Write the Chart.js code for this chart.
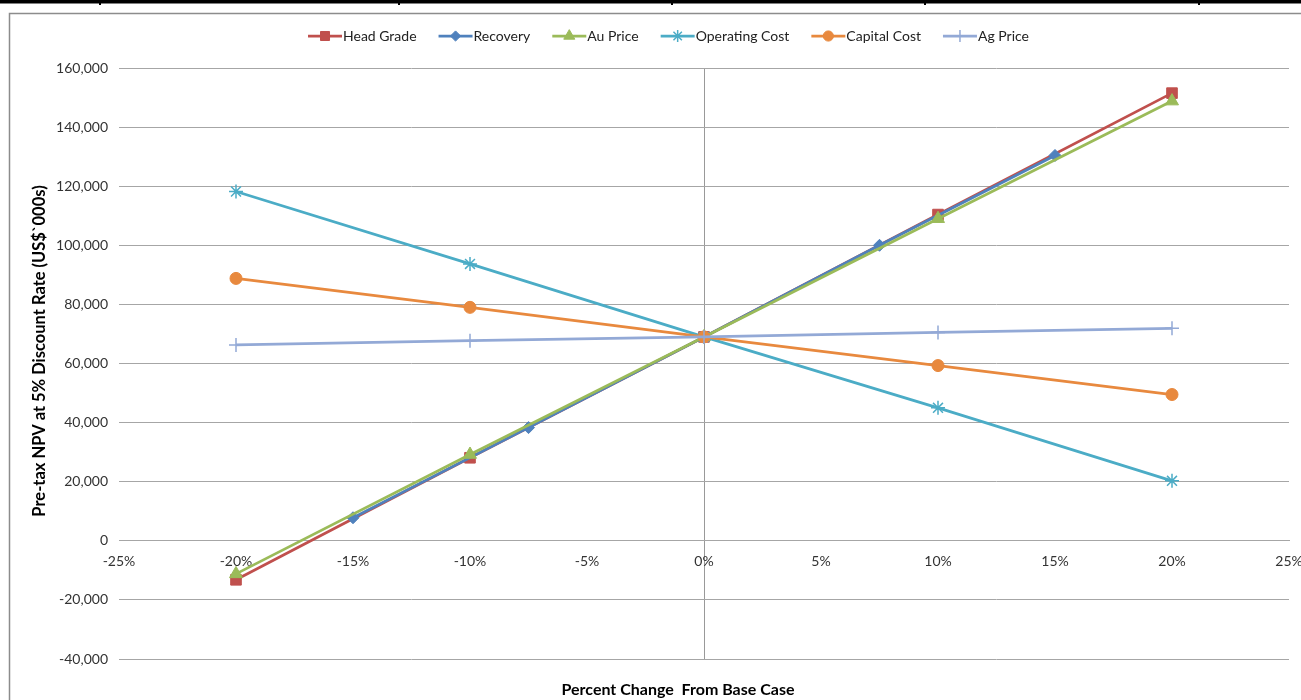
<!DOCTYPE html>
<html>
<head>
<meta charset="utf-8">
<script src="https://cdn.jsdelivr.net/npm/chart.js@4/dist/chart.umd.min.js"></script>
<style>
  html, body { margin: 0; padding: 0; background: #fff; overflow: hidden; }
  #wrap { width: 1301px; height: 700px; position: relative; }
</style>
</head>
<body>
<div id="wrap"><canvas id="c" width="1301" height="700"></canvas></div>
<script>
// Percent change from base case (x values)
const pctSteps = [-20, -10, 0, 10, 20];
const pctStepsRecovery = [-15, -7.5, 0, 7.5, 15];

// Pre-tax NPV at 5% discount rate, US$'000s
const npvHeadGrade     = [-13200, 28100, 69000, 110400, 151500];
const npvRecovery      = [7800, 38300, 69000, 100000, 130400];
const npvAuPrice       = [-11200, 29200, 69000, 109000, 148800];
const npvOperatingCost = [118200, 93700, 69000, 45000, 20300];
const npvCapitalCost   = [88800, 79000, 69000, 59300, 49500];
const npvAgPrice       = [66300, 67700, 69000, 70500, 71900];

// Axis ranges and tick steps
const xRange = [-25, 25];
const xStep = 5;
const yRange = [-40000, 160000];
const yStep = 20000;

const xTitle = 'Percent Change  From Base Case';
const yTitle = 'Pre-tax NPV at 5% Discount Rate (US$`000s)';

const FONT = 'Lato, "Open Sans", sans-serif';

function pts(xs, ys) { return xs.map((x, i) => ({ x: x, y: ys[i] })); }

const seriesDefs = [
  { label: 'Head Grade',     xs: pctSteps,         ys: npvHeadGrade,     color: '#C0504D', style: 'rect',     r: 7.5, bw: 1 },
  { label: 'Recovery',       xs: pctStepsRecovery, ys: npvRecovery,      color: '#4F81BD', style: 'rectRot',  r: 6,   bw: 1 },
  { label: 'Au Price',       xs: pctSteps,         ys: npvAuPrice,       color: '#9BBB59', style: 'triangle', r: 7.5, bw: 1 },
  { label: 'Operating Cost', xs: pctSteps,         ys: npvOperatingCost, color: '#4BACC6', style: 'star',     r: 7,   bw: 1.5 },
  { label: 'Capital Cost',   xs: pctSteps,         ys: npvCapitalCost,   color: '#E8893E', style: 'circle',   r: 6,   bw: 1 },
  { label: 'Ag Price',       xs: pctSteps,         ys: npvAgPrice,       color: '#93A9D6', style: 'cross',    r: 7,   bw: 1.5 }
];

const datasets = seriesDefs.map((s, i) => ({
  label: s.label,
  data: pts(s.xs, s.ys),
  borderColor: s.color,
  backgroundColor: s.color,
  borderWidth: 2.75,
  pointStyle: s.style,
  pointRadius: s.r,
  pointHoverRadius: s.r,
  pointBorderWidth: s.bw,
  pointBackgroundColor: s.color,
  pointBorderColor: s.color,
  tension: 0,
  fill: false,
  order: seriesDefs.length - i
}));

// Page frame: heavy rule along the top with small column ticks, grey chart border
const framePlugin = {
  id: 'frame',
  beforeDraw(chart) {
    const ctx = chart.ctx;
    ctx.save();
    ctx.fillStyle = '#fff';
    ctx.fillRect(0, 0, chart.width, chart.height);
    ctx.fillStyle = '#000';
    ctx.fillRect(0, 0, chart.width, 3.5);
    [100, 399, 672, 925, 1199].forEach(x => ctx.fillRect(x - 1, 0, 2, 5));
    ctx.strokeStyle = '#8c8c8c';
    ctx.lineWidth = 1.5;
    ctx.strokeRect(9.5, 13.5, chart.width + 20, chart.height + 20);
    ctx.restore();
  }
};

// Axis titles and line+marker legend
const annotatePlugin = {
  id: 'annotate',
  afterDraw(chart) {
    const ctx = chart.ctx;
    ctx.save();
    ctx.fillStyle = '#000';
    ctx.textAlign = 'center';
    ctx.textBaseline = 'middle';
    ctx.font = 'bold 16px ' + FONT;
    ctx.fillText(xTitle, 678, 690);
    ctx.translate(40, 351);
    ctx.rotate(-Math.PI / 2);
    ctx.font = 'bold 16.5px ' + FONT;
    ctx.fillText(yTitle, 0, 0);
    ctx.restore();

    // legend
    ctx.save();
    ctx.font = '14px ' + FONT;
    ctx.textBaseline = 'middle';
    ctx.textAlign = 'left';
    const lineLen = 34, gapAfterLine = 1, gapItem = 22;
    const widths = seriesDefs.map(s => ctx.measureText(s.label).width);
    let total = 0;
    widths.forEach((w, i) => { total += lineLen + gapAfterLine + w + (i < widths.length - 1 ? gapItem : 0); });
    let x = 668.5 - total / 2;
    const y = 36;
    seriesDefs.forEach((s, i) => {
      ctx.strokeStyle = s.color;
      ctx.lineWidth = 2.75;
      ctx.beginPath();
      ctx.moveTo(x, y);
      ctx.lineTo(x + lineLen, y);
      ctx.stroke();
      ctx.fillStyle = s.color;
      ctx.lineWidth = s.bw;
      Chart.helpers.drawPoint(ctx, { pointStyle: s.style, radius: s.r * 0.85, rotation: 0, borderWidth: s.bw }, x + lineLen / 2, y);
      ctx.fillStyle = '#222';
      ctx.fillText(s.label, x + lineLen + gapAfterLine, y + 0.5);
      x += lineLen + gapAfterLine + widths[i] + gapItem;
    });
    ctx.restore();
  }
};

new Chart(document.getElementById('c'), {
  type: 'line',
  data: { datasets: datasets },
  plugins: [framePlugin, annotatePlugin],
  options: {
    responsive: false,
    animation: false,
    devicePixelRatio: 1,
    layout: { padding: { left: 0, top: 68, right: 12, bottom: 41 } },
    plugins: {
      legend: { display: false },
      tooltip: { enabled: false },
      title: { display: false }
    },
    scales: {
      x: {
        type: 'linear',
        position: { y: 0 },
        min: xRange[0],
        max: xRange[1],
        ticks: {
          stepSize: xStep,
          padding: 12,
          color: '#333',
          font: { family: FONT, size: 14 },
          maxRotation: 0,
          callback: v => v + '%'
        },
        grid: {
          drawTicks: false,
          color: c => (c.tick && c.tick.value === 0 ? '#999' : 'rgba(0,0,0,0)'),
          lineWidth: 1
        },
        border: { display: true, color: '#a6a6a6', width: 1 },
        afterFit: s => { s.height = 0; s.paddingLeft = 0; s.paddingRight = 0; }
      },
      y: {
        type: 'linear',
        position: 'left',
        min: yRange[0],
        max: yRange[1],
        ticks: {
          stepSize: yStep,
          padding: 11,
          color: '#333',
          font: { family: FONT, size: 14 },
          callback: v => v.toLocaleString('en-US')
        },
        grid: { drawTicks: false, color: '#a6a6a6', lineWidth: 1 },
        border: { display: false },
        afterFit: s => { s.width = 119; s.paddingTop = 0; s.paddingBottom = 0; }
      }
    }
  }
});
</script>
</body>
</html>
